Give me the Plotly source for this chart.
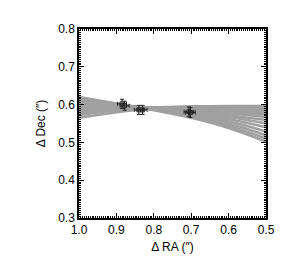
import plotly.graph_objects as go

# RA sample positions for the orbit curves
ra_grid = [1.0, 0.9, 0.8, 0.7, 0.6, 0.5]
# Dec values of each orbit curve at the RA sample positions
orbits = [
    [0.620, 0.603, 0.585, 0.565, 0.538, 0.502],
    [0.617, 0.602, 0.586, 0.568, 0.544, 0.510],
    [0.614, 0.601, 0.587, 0.571, 0.550, 0.519],
    [0.611, 0.600, 0.588, 0.574, 0.556, 0.529],
    [0.608, 0.599, 0.589, 0.577, 0.562, 0.540],
    [0.605, 0.598, 0.590, 0.580, 0.567, 0.550],
    [0.602, 0.597, 0.590, 0.583, 0.572, 0.559],
    [0.599, 0.596, 0.591, 0.585, 0.577, 0.567],
    [0.595, 0.594, 0.591, 0.587, 0.581, 0.574],
    [0.591, 0.593, 0.592, 0.589, 0.585, 0.580],
    [0.587, 0.591, 0.592, 0.591, 0.588, 0.585],
    [0.582, 0.589, 0.592, 0.593, 0.591, 0.589],
    [0.577, 0.587, 0.592, 0.594, 0.594, 0.592],
    [0.572, 0.585, 0.592, 0.595, 0.595, 0.594],
    [0.565, 0.580, 0.590, 0.594, 0.596, 0.596],
]

# Observed positions
obs_ra = [0.885, 0.878, 0.840, 0.830, 0.706, 0.702]
obs_dec = [0.602, 0.597, 0.586, 0.586, 0.581, 0.579]
obs_ra_err = [0.012, 0.012, 0.012, 0.012, 0.013, 0.013]
obs_dec_err = [0.012, 0.012, 0.012, 0.012, 0.013, 0.013]

fig = go.Figure()
for dec in orbits:
    fig.add_trace(go.Scatter(x=ra_grid, y=dec, mode="lines",
                             line=dict(color="#a0a0a0", width=2.5, shape="spline"),
                             showlegend=False, hoverinfo="skip"))

fig.add_trace(go.Scatter(
    x=obs_ra, y=obs_dec, mode="markers",
    marker=dict(symbol="square-open", size=4, color="#222222", line=dict(width=1)),
    error_x=dict(type="data", array=obs_ra_err, color="#222222", thickness=1, width=2),
    error_y=dict(type="data", array=obs_dec_err, color="#222222", thickness=1, width=2),
    showlegend=False))

font_family = "Liberation Sans, Arial, sans-serif"
axis_common = dict(
    showgrid=False, zeroline=False, showline=True, linecolor="black", linewidth=1.5,
    mirror="allticks", ticks="inside", ticklen=5, tickwidth=1, tickcolor="black",
    tickfont=dict(family=font_family, size=12, color="black"),
)

fig.update_layout(
    width=276, height=258,
    margin=dict(l=71, r=9, t=21, b=48),
    paper_bgcolor="white", plot_bgcolor="white",
    xaxis=dict(range=[1.0, 0.5], dtick=0.1, tick0=0.5, tickformat=".1f",
               minor=dict(dtick=0.005, ticklen=2, tickcolor="black", ticks="inside"),
               title=dict(text="Δ RA (″)", standoff=6,
                          font=dict(family=font_family, size=12, color="black")),
               **axis_common),
    yaxis=dict(range=[0.3, 0.8], dtick=0.1, tick0=0.3, tickformat=".1f",
               minor=dict(dtick=0.005, ticklen=2, tickcolor="black", ticks="inside"),
               title=dict(text="Δ Dec (″)", standoff=10,
                          font=dict(family=font_family, size=12, color="black")),
               **axis_common),
)

fig.write_html("out.html")
